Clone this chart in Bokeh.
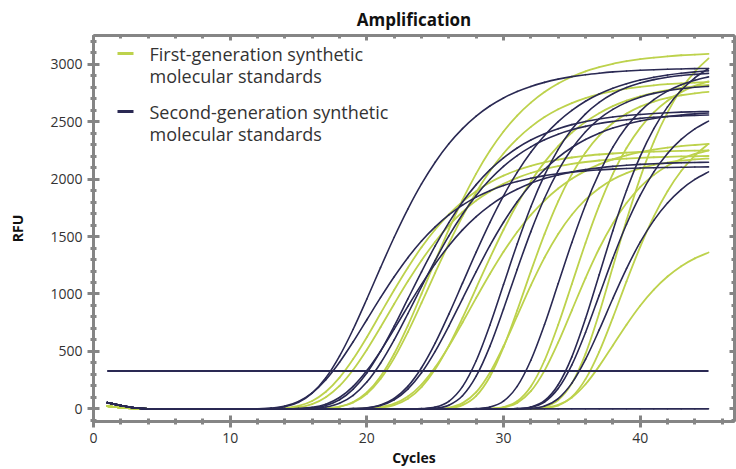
from bokeh.plotting import figure
from bokeh.models import (Range1d, LinearAxis, FixedTicker, ColumnDataSource,
                          Label, BoxAnnotation)
from bokeh.embed import file_html
from bokeh.resources import INLINE

FONT = "Open Sans"
GREEN = "#bdd24c"
NAVY = "#2a2953"
AXIS_GREY = "#858585"
TEXT_GREY = "#333333"

threshold = 330

# early-cycle background drift (cycles 1-3) per chemistry
dark_drift = [55, 30, 10]
green_drift = [25, 12, 4]

# second-generation standards: first cycle of the listed rise, RFU to cycle 45
dark_starts = [13, 13, 15, 15, 16, 19, 19, 24, 25, 28, 31, 31, 32]
d01 = [4, 18, 57, 137, 270, 459, 693, 956, 1229, 1494, 1739, 1958, 2147, 2307, 2439, 2548, 2636, 2706, 2763, 2807, 2842, 2870, 2892, 2909, 2922, 2933, 2941, 2947, 2952, 2956, 2959, 2962, 2963]
d02 = [7, 24, 64, 139, 254, 406, 584, 776, 968, 1150, 1316, 1461, 1584, 1688, 1773, 1843, 1899, 1944, 1979, 2007, 2030, 2047, 2061, 2072, 2080, 2087, 2092, 2096, 2099, 2101, 2103, 2105, 2106]
d03 = [3, 13, 41, 99, 196, 333, 503, 694, 892, 1084, 1262, 1420, 1558, 1674, 1770, 1849, 1912, 1964, 2005, 2036, 2062, 2083, 2098, 2111, 2120, 2128, 2134, 2139, 2142, 2145, 2147]
d04 = [2, 8, 29, 79, 172, 313, 500, 720, 957, 1193, 1418, 1621, 1800, 1952, 2080, 2185, 2271, 2340, 2395, 2439, 2474, 2501, 2523, 2540, 2553, 2563, 2571, 2578, 2583, 2586, 2589]
d05 = [4, 16, 49, 118, 233, 397, 600, 828, 1063, 1292, 1505, 1694, 1858, 1996, 2111, 2205, 2281, 2342, 2391, 2429, 2459, 2484, 2502, 2517, 2529, 2538, 2545, 2550, 2555, 2558]
d06 = [2, 9, 34, 91, 196, 358, 572, 824, 1094, 1365, 1622, 1855, 2059, 2234, 2380, 2500, 2598, 2678, 2741, 2791, 2830, 2862, 2887, 2906, 2921, 2933, 2942]
d07 = [2, 8, 29, 79, 172, 314, 501, 721, 958, 1195, 1420, 1624, 1803, 1956, 2084, 2190, 2275, 2345, 2400, 2444, 2478, 2506, 2528, 2545, 2558, 2568, 2576]
d08 = [2, 15, 66, 194, 419, 728, 1082, 1436, 1760, 2035, 2259, 2434, 2568, 2668, 2743, 2797, 2837, 2866, 2887, 2902, 2912, 2920]
d09 = [5, 32, 114, 284, 544, 869, 1214, 1543, 1833, 2073, 2264, 2412, 2524, 2607, 2668, 2713, 2746, 2769, 2786, 2799, 2807]
d10 = [2, 15, 67, 196, 423, 734, 1091, 1448, 1775, 2052, 2278, 2455, 2590, 2691, 2766, 2821, 2861, 2890]
d11 = [2, 16, 71, 210, 453, 786, 1168, 1551, 1900, 2198, 2439, 2629, 2773, 2882, 2962]
d12 = [2, 13, 60, 177, 383, 665, 988, 1312, 1607, 1859, 2063, 2223, 2345, 2437, 2505]
d13 = [4, 25, 90, 224, 431, 687, 961, 1221, 1451, 1641, 1792, 1909, 1997, 2063]
dark_rises = [d01, d02, d03, d04, d05, d06, d07, d08, d09, d10, d11, d12, d13]

# first-generation standards
green_starts = [14, 14, 17, 17, 20, 20, 26, 26, 29, 30, 32, 33, 33]
g01 = [7, 26, 69, 149, 272, 434, 624, 830, 1035, 1229, 1406, 1561, 1693, 1804, 1895, 1970, 2030, 2077, 2115, 2145, 2169, 2188, 2203, 2214, 2223, 2230, 2236, 2240, 2243, 2246, 2248, 2249]
g02 = [3, 14, 42, 102, 200, 341, 515, 711, 913, 1110, 1292, 1455, 1595, 1714, 1813, 1893, 1958, 2011, 2053, 2086, 2112, 2133, 2149, 2162, 2171, 2179, 2185, 2190, 2194, 2197, 2199, 2201]
g03 = [5, 19, 60, 143, 282, 480, 725, 1001, 1286, 1563, 1820, 2048, 2246, 2414, 2553, 2666, 2758, 2832, 2891, 2938, 2974, 3004, 3026, 3044, 3058, 3069, 3078, 3084, 3090]
g04 = [4, 18, 55, 132, 260, 442, 668, 922, 1184, 1439, 1676, 1886, 2069, 2223, 2351, 2455, 2540, 2608, 2662, 2705, 2739, 2766, 2787, 2803, 2816, 2826, 2834, 2840, 2845]
g05 = [2, 9, 32, 87, 189, 344, 550, 792, 1052, 1312, 1559, 1783, 1980, 2148, 2288, 2404, 2498, 2574, 2635, 2683, 2721, 2751, 2775, 2794, 2808, 2819]
g06 = [3, 15, 45, 107, 212, 361, 545, 752, 966, 1174, 1367, 1539, 1688, 1813, 1918, 2003, 2072, 2128, 2172, 2207, 2235, 2257, 2274, 2287, 2297, 2306]
g07 = [5, 32, 113, 280, 537, 856, 1197, 1521, 1807, 2043, 2232, 2378, 2488, 2570, 2631, 2675, 2707, 2730, 2747, 2759]
g08 = [11, 50, 145, 314, 545, 809, 1075, 1317, 1523, 1690, 1821, 1921, 1997, 2052, 2093, 2123, 2144, 2160, 2171, 2179]
g09 = [2, 15, 66, 195, 421, 732, 1087, 1444, 1769, 2045, 2270, 2446, 2581, 2682, 2757, 2811, 2851]
g10 = [12, 52, 154, 333, 578, 858, 1139, 1396, 1614, 1792, 1931, 2037, 2117, 2175, 2219, 2250]
g11 = [2, 17, 76, 222, 479, 832, 1236, 1641, 2011, 2326, 2581, 2782, 2935, 3050]
g12 = [5, 29, 104, 259, 497, 794, 1110, 1410, 1675, 1895, 2070, 2205, 2307]
g13 = [8, 34, 99, 214, 372, 552, 733, 898, 1038, 1152, 1242, 1310, 1361]
green_rises = [g01, g02, g03, g04, g05, g06, g07, g08, g09, g10, g11, g12, g13]

# no-template control stays on the baseline
ntc_rfu = [52, 28, 9] + [0] * 42

x_ticks = [0, 10, 20, 30, 40]
y_ticks = [0, 500, 1000, 1500, 2000, 2500, 3000]

legend_entries = [
    ("First-generation synthetic", "molecular standards", GREEN),
    ("Second-generation synthetic", "molecular standards", NAVY),
]


def trace(drift, start, rise):
    rfu = drift + [0] * (start - 1 - len(drift)) + rise
    return list(range(1, len(rfu) + 1)), rfu


def smooth_segments(traces):
    """Cubic (Catmull-Rom) segments through each cycle reading."""
    cols = {k: [] for k in ("x0", "y0", "x1", "y1", "cx0", "cy0", "cx1", "cy1")}
    for xs, ys in traces:
        n = len(xs)
        for i in range(n - 1):
            xa, ya = xs[max(i - 1, 0)], ys[max(i - 1, 0)]
            xb, yb = xs[i], ys[i]
            xc, yc = xs[i + 1], ys[i + 1]
            xd, yd = xs[min(i + 2, n - 1)], ys[min(i + 2, n - 1)]
            cols["x0"].append(xb)
            cols["y0"].append(yb)
            cols["x1"].append(xc)
            cols["y1"].append(yc)
            cols["cx0"].append(xb + (xc - xa) / 6)
            cols["cy0"].append(yb + (yc - ya) / 6)
            cols["cx1"].append(xc - (xd - xb) / 6)
            cols["cy1"].append(yc - (yd - yb) / 6)
    return ColumnDataSource(cols)


p = figure(width=736, height=469, output_backend="svg", toolbar_location=None,
           x_range=Range1d(0, 46.9), y_range=Range1d(-110, 3250),
           min_border_left=93, min_border_right=2, min_border_top=33,
           min_border_bottom=44, background_fill_color="white",
           border_fill_color="white")

p.title.text = "Amplification"
p.title.align = "center"
p.title.text_font = FONT
p.title.text_font_size = "17px"
p.title.text_font_style = "bold"
p.title.text_color = "#111111"

p.grid.visible = False
p.outline_line_color = AXIS_GREY
p.outline_line_width = 2

green_traces = [trace(green_drift, s, r) for s, r in zip(green_starts, green_rises)]
dark_traces = [trace(dark_drift, s, r) for s, r in zip(dark_starts, dark_rises)]
dark_traces.append((list(range(1, len(ntc_rfu) + 1)), ntc_rfu))

bz = dict(x0="x0", y0="y0", x1="x1", y1="y1", cx0="cx0", cy0="cy0", cx1="cx1", cy1="cy1")
p.bezier(source=smooth_segments(green_traces), line_color=GREEN,
         line_width=1.8, line_cap="round", **bz)
p.bezier(source=smooth_segments(dark_traces), line_color=NAVY,
         line_width=1.6, line_cap="round", **bz)

# threshold across the run
p.line([1, 45], [threshold, threshold], line_color=NAVY, line_width=2)

x_ticker = FixedTicker(ticks=x_ticks, minor_ticks=list(range(0, 48, 2)))
y_ticker = FixedTicker(ticks=y_ticks, minor_ticks=list(range(-100, 3300, 100)))


def style_axis(ax, ticker, ticks, labels=True):
    ax.ticker = ticker
    ax.axis_line_color = AXIS_GREY
    ax.axis_line_width = 3
    ax.major_tick_line_color = AXIS_GREY
    ax.major_tick_line_width = 3
    ax.minor_tick_line_color = AXIS_GREY
    ax.minor_tick_line_width = 3
    ax.major_label_text_font = FONT
    ax.major_label_text_font_size = "14px"
    ax.major_label_text_color = TEXT_GREY
    ax.axis_label_text_font = FONT
    ax.axis_label_text_font_size = "14px"
    ax.axis_label_text_font_style = "bold"
    ax.axis_label_text_color = "#111111"
    if labels:
        ax.major_tick_in = 6
        ax.major_tick_out = 6
        ax.minor_tick_in = 3
        ax.minor_tick_out = 3
    else:
        ax.major_tick_in = 5
        ax.major_tick_out = 0
        ax.minor_tick_in = 3
        ax.minor_tick_out = 0
        ax.major_label_overrides = {t: "" for t in ticks}
        ax.major_label_standoff = 0


style_axis(p.xaxis[0], x_ticker, x_ticks)
style_axis(p.yaxis[0], y_ticker, y_ticks)
p.xaxis[0].axis_label = "Cycles"
p.yaxis[0].axis_label = "RFU"
p.xaxis[0].axis_label_standoff = 2
p.yaxis[0].axis_label_standoff = 20

top_axis = LinearAxis()
style_axis(top_axis, x_ticker, x_ticks, labels=False)
p.add_layout(top_axis, "above")
right_axis = LinearAxis()
style_axis(right_axis, y_ticker, y_ticks, labels=False)
p.add_layout(right_axis, "right")

# key in the upper-left corner of the frame (screen offsets from frame corner)
key_top = 368
for i, (line1, line2, color) in enumerate(legend_entries):
    y1 = key_top - i * 58
    p.add_layout(BoxAnnotation(left=24, right=40, bottom=y1 - 1.5, top=y1 + 1.5,
                               left_units="screen", right_units="screen",
                               bottom_units="screen", top_units="screen",
                               fill_color=color, fill_alpha=1, line_color=None,
                               level="overlay"))
    for j, txt in enumerate((line1, line2)):
        p.add_layout(Label(x=56, y=y1 - j * 22, x_units="screen", y_units="screen",
                           text=txt, text_font=FONT, text_font_size="18px",
                           text_color=TEXT_GREY, text_baseline="middle",
                           text_align="left"))

open("out.html", "w").write(file_html(p, INLINE))
